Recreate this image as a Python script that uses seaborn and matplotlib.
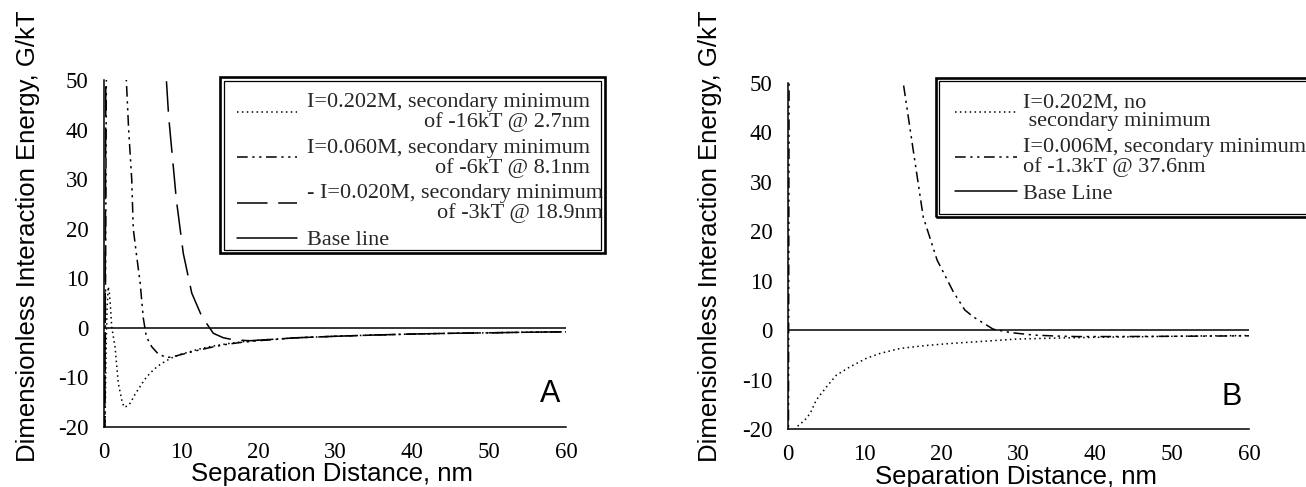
import numpy as np
import pandas as pd
import matplotlib
matplotlib.use("Agg")
import matplotlib.pyplot as plt
from matplotlib.lines import Line2D
from matplotlib.patches import Rectangle
import seaborn as sns

# ---------------- data ----------------
# Panel A
a_x_202 = [0.1, 0.2, 0.3, 0.4, 0.55, 0.7, 0.85, 1.0, 1.43, 1.86, 2.3, 2.6, 3.0, 3.4, 4.0, 4.7,
           5.3, 6.0, 7.0, 8.0, 9.0, 10.0, 11.2, 12.0, 14.0, 16.0, 18.0, 20.0, 25.0, 30.0, 35.0,
           40.0, 45.0, 50.0, 55.0, 60.0]
a_y_202 = [-25, -12, -2, 4, 8.3, 7, 4, 0.2, -3.8, -11.2, -14.5, -16, -15.8, -15.2, -13.5, -11.8,
           -10.4, -9.1, -7.7, -6.7, -5.9, -5.3, -4.8, -4.4, -3.7, -3.2, -2.8, -2.5, -2.0, -1.7,
           -1.45, -1.25, -1.1, -1.0, -0.88, -0.8]

a_x_060 = [0.05, 0.15, 0.25, 0.5, 1.0, 1.5, 2.0, 2.5, 2.9, 3.2, 3.6, 3.8, 4.2, 4.7, 5.1, 5.5,
           6.2, 7.0, 8.1, 9.0, 10.0, 12.0, 14.0, 16.0, 18.0, 20.0, 25.0, 30.0, 35.0, 40.0, 45.0,
           50.0, 55.0, 60.0]
a_y_060 = [-40, -10, 30, 120, 140, 120, 90, 65, 50, 40, 30, 20, 15, 9, 2, -1.8,
           -3.8, -5.2, -6.0, -5.8, -5.4, -4.6, -3.9, -3.3, -2.9, -2.6, -2.0, -1.7, -1.45, -1.25, -1.1,
           -1.0, -0.88, -0.8]

a_x_020 = [0.05, 0.15, 0.25, 0.5, 4.0, 7.0, 8.1, 8.4, 9.4, 10.3, 11.4, 12.7, 14.2, 15.5, 16.8,
           18.9, 22.0, 25.0, 30.0, 35.0, 40.0, 45.0, 50.0, 55.0, 60.0]
a_y_020 = [-40, 0, 60, 200, 150, 70, 50, 42.6, 25.8, 15, 7, 2.3, -1.1, -2.0, -2.4,
           -2.6, -2.3, -2.0, -1.7, -1.45, -1.25, -1.1, -1.0, -0.88, -0.8]

base_x = [0, 60]
base_y = [0, 0]

# Panel B
b_x_202 = [0.05, 0.3, 0.7, 1.1, 1.6, 2.3, 2.9, 3.7, 5.0, 6.3, 8.1, 10.2, 12.0, 14.6, 18.0,
           21.1, 25.0, 29.8, 35.0, 40.0, 45.0, 50.0, 55.0, 60.0]
b_y_202 = [-40, -24, -20.6, -19.6, -19.0, -18.0, -16.8, -14.1, -11.5, -9.1, -7.4, -5.7, -4.7,
           -3.7, -3.1, -2.7, -2.3, -1.8, -1.6, -1.45, -1.35, -1.25, -1.15, -1.1]

b_x_006 = [0.05, 0.15, 1.0, 10.0, 15.0, 16.3, 17.6, 19.4, 21.5, 23.0, 24.1, 26.7, 29.0, 32.0,
           35.0, 37.6, 40.0, 45.0, 50.0, 55.0, 60.0]
b_y_006 = [-30, 60, 200, 120, 50, 36.4, 22.9, 14.2, 7.8, 4.1, 2.7, 0.2, -0.5, -1.0,
           -1.2, -1.3, -1.3, -1.28, -1.24, -1.2, -1.15]

labels_a = ["I=0.202M, secondary minimum\nof -16kT @ 2.7nm",
            "I=0.060M, secondary minimum\nof -6kT @ 8.1nm",
            "- I=0.020M, secondary minimum\nof -3kT @ 18.9nm",
            "Base line"]
labels_b = ["I=0.202M, no\n secondary minimum",
            "I=0.006M, secondary minimum\nof -1.3kT @ 37.6nm",
            "Base Line"]

x_ticks = [0, 10, 20, 30, 40, 50, 60]
y_ticks = [-20, -10, 0, 10, 20, 30, 40, 50]

# ---------------- styling ----------------
sns.set_theme(style="white")
plt.rcParams["font.family"] = ["Liberation Serif", "DejaVu Serif"]

DOT = (0, (1.0, 2.2))
DASHDOT = (0, (7, 3, 1.5, 3, 1.5, 3))
LONGDASH = (0, (20, 7))
SOLID = "-"
LW = 1.1

fig = plt.figure(figsize=(13.06, 4.87), dpi=100)
axA = fig.add_axes([104 / 1306, 1 - 427 / 487, 462 / 1306, 347 / 487])
axB = fig.add_axes([788 / 1306, 1 - 429 / 487, 461 / 1306, 346 / 487])


def draw(ax, xs, ys, ls):
    df = pd.DataFrame({"x": xs, "y": ys})
    sns.lineplot(data=df, x="x", y="y", ax=ax, color="black", linewidth=LW,
                 linestyle=ls, sort=False, estimator=None, legend=False)


draw(axA, a_x_202, a_y_202, DOT)
draw(axA, a_x_060, a_y_060, DASHDOT)
draw(axA, a_x_020, a_y_020, LONGDASH)
draw(axA, base_x, base_y, SOLID)

draw(axB, b_x_202, b_y_202, DOT)
draw(axB, b_x_006, b_y_006, DASHDOT)
draw(axB, base_x, base_y, SOLID)

for ax in (axA, axB):
    ax.set_xlim(0, 60)
    ax.set_ylim(-20, 50)
    ax.set_xticks(x_ticks)
    ax.set_yticks(y_ticks)
    ax.set_xticklabels([str(t) for t in x_ticks])
    ax.set_yticklabels([str(t) for t in y_ticks])
    for s in ("top", "right"):
        ax.spines[s].set_visible(False)
    for s in ("left", "bottom"):
        ax.spines[s].set_color("black")
        ax.spines[s].set_linewidth(1.1)
    ax.tick_params(axis="both", direction="in", length=7.5, width=1.0, color="black",
                   labelsize=16.5, labelcolor="black")
    ax.tick_params(axis="x", pad=11)
    ax.tick_params(axis="y", pad=11)
    for lab in ax.get_xticklabels() + ax.get_yticklabels():
        lab.set_family(["Liberation Serif", "DejaVu Serif"])
    ax.set_xlabel("Separation Distance, nm", fontsize=18.5,
                  family=["Liberation Sans", "DejaVu Sans"], color="black")
    ax.set_ylabel("Dimensionless Interaction Energy, G/kT", fontsize=18.5,
                  family=["Liberation Sans", "DejaVu Sans"], color="black")
    ax.set_facecolor("white")

axA.xaxis.set_label_coords(0.494, -0.100)
axB.xaxis.set_label_coords(0.494, -0.103)
axA.yaxis.set_label_coords(-0.139, 0.549)
axB.yaxis.set_label_coords(-0.143, 0.556)

axA.text(0.987, 0.072, "A", transform=axA.transAxes, ha="right", va="baseline",
         fontsize=22, family=["Liberation Sans", "DejaVu Sans"], color="black")
axB.text(0.985, 0.069, "B", transform=axB.transAxes, ha="right", va="baseline",
         fontsize=22, family=["Liberation Sans", "DejaVu Sans"], color="black")


def hnd(ls):
    return Line2D([], [], color="black", linewidth=LW, linestyle=ls)


legA = axA.legend([hnd(DOT), hnd(DASHDOT), hnd(LONGDASH), hnd(SOLID)], labels_a,
                  loc="upper left", bbox_to_anchor=(0.288, 0.962), frameon=False,
                  borderpad=0, borderaxespad=0, handlelength=2.7,
                  handletextpad=0.45, labelspacing=0.3,
                  prop={"family": ["Liberation Serif", "DejaVu Serif"], "size": 16})
for t in legA.get_texts():
    t.set_multialignment("right")
    t.set_linespacing(1.0)

legB = axB.legend([hnd(DOT), hnd(DASHDOT), hnd(SOLID)], labels_b,
                  loc="upper left", bbox_to_anchor=(0.362, 0.97), frameon=False,
                  borderpad=0, borderaxespad=0, handlelength=2.8,
                  handletextpad=0.25, labelspacing=0.3,
                  prop={"family": ["Liberation Serif", "DejaVu Serif"], "size": 16})
for t in legB.get_texts():
    t.set_linespacing(1.0)


def double_box(ax, x0, y0, x1, y1, px_w, px_h):
    ax.add_patch(Rectangle((x0, y0), x1 - x0, y1 - y0, transform=ax.transAxes,
                           fill=False, edgecolor="black", linewidth=1.9, clip_on=False, zorder=5))
    dx = 3.5 / px_w
    dy = 3.5 / px_h
    ax.add_patch(Rectangle((x0 + dx, y0 + dy), x1 - x0 - 2 * dx, y1 - y0 - 2 * dy,
                           transform=ax.transAxes, fill=False, edgecolor="black",
                           linewidth=0.9, clip_on=False, zorder=5))


double_box(axA, 0.2511, 0.5014, 1.0844, 1.0086, 462, 347)
double_box(axB, 0.321, 0.6127, 1.25, 1.0145, 461, 346)

fig.savefig("out.png", dpi=100, facecolor="white")
